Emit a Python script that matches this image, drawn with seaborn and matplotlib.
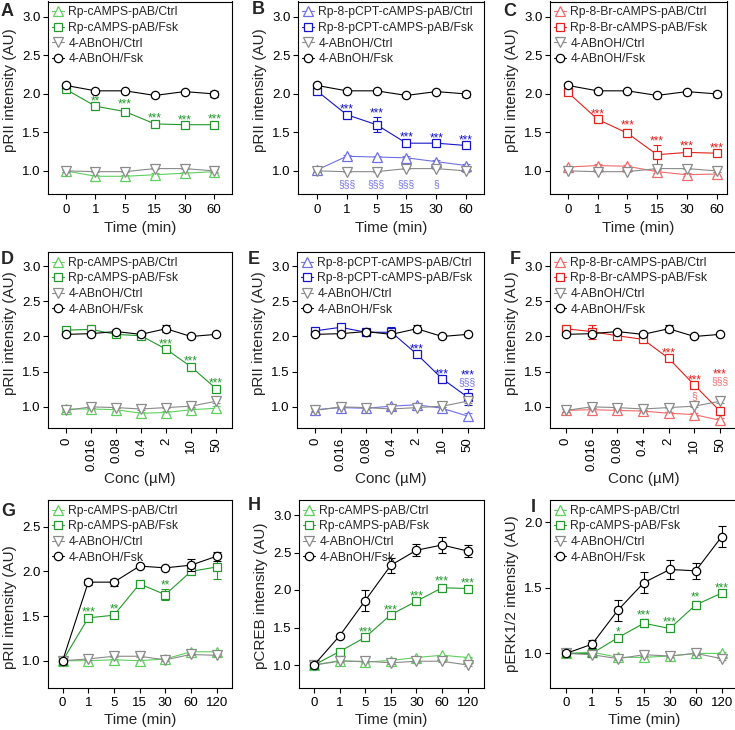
import numpy as np
import pandas as pd
import matplotlib
matplotlib.use("Agg")
import matplotlib.pyplot as plt
import seaborn as sns

sns.set_theme(style="ticks")
plt.rcParams['font.family'] = ['Liberation Sans', 'DejaVu Sans']

# ---------------- categories ----------------
time6 = ["0", "1", "5", "15", "30", "60"]
conc7 = ["0", "0.016", "0.08", "0.4", "2", "10", "50"]
time7 = ["0", "1", "5", "15", "30", "60", "120"]

# ---------------- shared 4-ABnOH series ----------------
abn_ctrl_t6 = [1.00, 0.99, 0.99, 1.03, 1.03, 1.00]
abn_ctrl_t6_err = [0.01, 0.01, 0.01, 0.01, 0.01, 0.02]
abn_fsk_t6 = [2.11, 2.04, 2.04, 1.98, 2.03, 2.00]
abn_fsk_t6_err = [0.03, 0.01, 0.01, 0.02, 0.01, 0.04]

abn_ctrl_c7 = [0.95, 1.00, 0.99, 0.97, 0.99, 1.01, 1.08]
abn_ctrl_c7_err = [0.02, 0.01, 0.01, 0.01, 0.01, 0.01, 0.03]
abn_fsk_c7 = [2.03, 2.04, 2.07, 2.03, 2.11, 2.00, 2.03]
abn_fsk_c7_err = [0.01, 0.01, 0.02, 0.01, 0.05, 0.02, 0.02]

# ---------------- panel A ----------------
rpA_ctrl = [1.00, 0.93, 0.93, 0.95, 0.97, 0.99]
rpA_ctrl_err = [0.02, 0.02, 0.02, 0.02, 0.02, 0.02]
rpA_fsk = [2.06, 1.84, 1.77, 1.61, 1.60, 1.60]
rpA_fsk_err = [0.02, 0.02, 0.04, 0.02, 0.01, 0.02]
starsA = ["", "**", "***", "***", "***", "***"]

# ---------------- panel B ----------------
pcptB_ctrl = [1.01, 1.19, 1.18, 1.17, 1.12, 1.07]
pcptB_ctrl_err = [0.02, 0.02, 0.02, 0.02, 0.02, 0.02]
pcptB_fsk = [2.04, 1.73, 1.60, 1.36, 1.36, 1.33]
pcptB_fsk_err = [0.02, 0.02, 0.10, 0.03, 0.01, 0.02]
starsB = ["", "***", "***", "***", "***", "***"]
sectB = ["", "§§§", "§§§", "§§§", "§", ""]
sectB_y = [0, 0.83, 0.83, 0.83, 0.83, 0]

# ---------------- panel C ----------------
brC_ctrl = [1.05, 1.07, 1.06, 0.99, 0.95, 0.96]
brC_ctrl_err = [0.02, 0.02, 0.02, 0.02, 0.02, 0.02]
brC_fsk = [2.02, 1.67, 1.49, 1.21, 1.24, 1.23]
brC_fsk_err = [0.02, 0.01, 0.05, 0.13, 0.03, 0.02]
starsC = ["", "***", "***", "***", "***", "***"]

# ---------------- panel D ----------------
rpD_ctrl = [0.97, 0.97, 0.96, 0.91, 0.92, 0.96, 0.98]
rpD_ctrl_err = [0.02, 0.02, 0.02, 0.02, 0.02, 0.02, 0.03]
rpD_fsk = [2.09, 2.10, 2.03, 2.01, 1.82, 1.57, 1.26]
rpD_fsk_err = [0.02, 0.02, 0.02, 0.02, 0.01, 0.03, 0.02]
starsD = ["", "", "", "", "***", "***", "***"]

# ---------------- panel E ----------------
pcptE_ctrl = [0.96, 0.99, 0.98, 1.01, 1.03, 0.98, 0.87]
pcptE_ctrl_err = [0.02, 0.02, 0.02, 0.02, 0.02, 0.02, 0.05]
pcptE_fsk = [2.08, 2.13, 2.06, 2.06, 1.75, 1.40, 1.14]
pcptE_fsk_err = [0.02, 0.03, 0.02, 0.07, 0.01, 0.01, 0.11]
starsE = ["", "", "", "", "***", "***", "***"]
sectE = ["", "", "", "", "", "", "§§§"]
sectE_y = [0, 0, 0, 0, 0, 0, 1.35]

# ---------------- panel F ----------------
brF_ctrl = [0.95, 0.96, 0.95, 0.94, 0.91, 0.89, 0.81]
brF_ctrl_err = [0.02, 0.02, 0.02, 0.02, 0.02, 0.02, 0.03]
brF_fsk = [2.11, 2.07, 2.01, 1.96, 1.69, 1.31, 0.94]
brF_fsk_err = [0.02, 0.10, 0.02, 0.01, 0.01, 0.02, 0.05]
starsF = ["", "", "", "", "***", "***", "***"]
sectF = ["", "", "", "", "", "§", "§§§"]
sectF_y = [0, 0, 0, 0, 0, 1.15, 1.37]

# ---------------- panel G ----------------
rpG_ctrl = [1.00, 1.00, 1.01, 1.00, 1.02, 1.10, 1.10]
rpG_ctrl_err = [0.01, 0.01, 0.01, 0.01, 0.01, 0.01, 0.01]
rpG_fsk = [1.00, 1.48, 1.51, 1.86, 1.74, 2.00, 2.05]
rpG_fsk_err = [0.01, 0.02, 0.02, 0.02, 0.06, 0.02, 0.13]
abnG_ctrl = [1.00, 1.02, 1.05, 1.05, 1.01, 1.07, 1.06]
abnG_ctrl_err = [0.01, 0.01, 0.01, 0.01, 0.01, 0.01, 0.01]
abnG_fsk = [1.00, 1.88, 1.88, 2.06, 2.04, 2.07, 2.17]
abnG_fsk_err = [0.01, 0.03, 0.04, 0.01, 0.01, 0.07, 0.05]
starsG = ["", "***", "**", "", "**", "", ""]

# ---------------- panel H ----------------
rpH_ctrl = [1.00, 1.06, 1.04, 1.06, 1.10, 1.13, 1.10]
rpH_ctrl_err = [0.01, 0.01, 0.01, 0.01, 0.01, 0.01, 0.01]
rpH_fsk = [1.00, 1.18, 1.37, 1.67, 1.85, 2.03, 2.02]
rpH_fsk_err = [0.01, 0.01, 0.01, 0.01, 0.01, 0.04, 0.02]
abnH_ctrl = [1.00, 1.05, 1.05, 1.03, 1.05, 1.05, 1.00]
abnH_ctrl_err = [0.01, 0.01, 0.01, 0.01, 0.01, 0.01, 0.01]
abnH_fsk = [1.00, 1.39, 1.86, 2.33, 2.53, 2.60, 2.52]
abnH_fsk_err = [0.01, 0.02, 0.14, 0.10, 0.08, 0.11, 0.08]
starsH = ["", "", "***", "***", "***", "***", "***"]

# ---------------- panel I ----------------
rpI_ctrl = [1.00, 1.01, 0.97, 0.97, 0.98, 1.00, 1.00]
rpI_ctrl_err = [0.01, 0.01, 0.01, 0.01, 0.01, 0.01, 0.01]
rpI_fsk = [1.00, 1.00, 1.12, 1.23, 1.19, 1.37, 1.46]
rpI_fsk_err = [0.01, 0.01, 0.01, 0.03, 0.02, 0.03, 0.01]
abnI_ctrl = [1.00, 0.99, 0.96, 0.99, 0.98, 1.00, 0.96]
abnI_ctrl_err = [0.01, 0.01, 0.01, 0.01, 0.01, 0.01, 0.01]
abnI_fsk = [1.00, 1.07, 1.33, 1.54, 1.64, 1.63, 1.89]
abnI_fsk_err = [0.01, 0.03, 0.08, 0.08, 0.07, 0.06, 0.08]
starsI = ["", "", "*", "***", "***", "**", "***"]

# ---------------- styling ----------------
GREEN_C, GREEN_F = "#5fcf5f", "#22992a"
BLUE_C, BLUE_F = "#6f6fe6", "#1515c8"
RED_C, RED_F = "#f06a6a", "#e3201c"
GRAY, BLACK = "#8a8a8a", "#000000"

W, H = 735, 730
fig = plt.figure(figsize=(W / 100, H / 100), dpi=100)


def rect(l, r, t, b):
    return [l / W, 1 - b / H, (r - l) / W, (b - t) / H]


panels = [
    dict(letter="A", px=(48, 232, 1.5, 194), xlim=(-0.6, 5.6), ylim=(0.7, 3.2),
         yt=[1.0, 1.5, 2.0, 2.5, 3.0], cats=time6, yl="pRII intensity (AU)", xl="Time (min)",
         cc=GREEN_C, fc=GREEN_F, name="Rp-cAMPS-pAB",
         c=(rpA_ctrl, rpA_ctrl_err), f=(rpA_fsk, rpA_fsk_err),
         g=(abn_ctrl_t6, abn_ctrl_t6_err), k=(abn_fsk_t6, abn_fsk_t6_err),
         stars=starsA, sect=None, sect_y=None, rot=0, lp=(1, 11), ly=0.54, xlp=4),
    dict(letter="B", px=(298, 484, 1.5, 194), xlim=(-0.63, 5.6), ylim=(0.7, 3.2),
         yt=[1.0, 1.5, 2.0, 2.5, 3.0], cats=time6, yl="pRII intensity (AU)", xl="Time (min)",
         cc=BLUE_C, fc=BLUE_F, name="Rp-8-pCPT-cAMPS-pAB",
         c=(pcptB_ctrl, pcptB_ctrl_err), f=(pcptB_fsk, pcptB_fsk_err),
         g=(abn_ctrl_t6, abn_ctrl_t6_err), k=(abn_fsk_t6, abn_fsk_t6_err),
         stars=starsB, sect=sectB, sect_y=sectB_y, rot=0, lp=(252, 10), ly=0.54, xlp=4),
    dict(letter="C", px=(550, 727, 1.5, 194), xlim=(-0.6, 5.35), ylim=(0.7, 3.2),
         yt=[1.0, 1.5, 2.0, 2.5, 3.0], cats=time6, yl="pRII intensity (AU)", xl="Time (min)",
         cc=RED_C, fc=RED_F, name="Rp-8-Br-cAMPS-pAB",
         c=(brC_ctrl, brC_ctrl_err), f=(brC_fsk, brC_fsk_err),
         g=(abn_ctrl_t6, abn_ctrl_t6_err), k=(abn_fsk_t6, abn_fsk_t6_err),
         stars=starsC, sect=None, sect_y=None, rot=0, lp=(503, 11), ly=0.54, xlp=4),
    dict(letter="D", px=(48, 232, 252, 428), xlim=(-0.72, 6.64), ylim=(0.7, 3.2),
         yt=[1.0, 1.5, 2.0, 2.5, 3.0], cats=conc7, yl="pRII intensity (AU)", xl="Conc (µM)",
         cc=GREEN_C, fc=GREEN_F, name="Rp-cAMPS-pAB",
         c=(rpD_ctrl, rpD_ctrl_err), f=(rpD_fsk, rpD_fsk_err),
         g=(abn_ctrl_c7, abn_ctrl_c7_err), k=(abn_fsk_c7, abn_fsk_c7_err),
         stars=starsD, sect=None, sect_y=None, rot=90, lp=(1, 259), ly=0.54, xlp=1),
    dict(letter="E", px=(297, 484, 252, 428), xlim=(-0.72, 6.65), ylim=(0.7, 3.2),
         yt=[1.0, 1.5, 2.0, 2.5, 3.0], cats=conc7, yl="pRII intensity (AU)", xl="Conc (µM)",
         cc=BLUE_C, fc=BLUE_F, name="Rp-8-pCPT-cAMPS-pAB",
         c=(pcptE_ctrl, pcptE_ctrl_err), f=(pcptE_fsk, pcptE_fsk_err),
         g=(abn_ctrl_c7, abn_ctrl_c7_err), k=(abn_fsk_c7, abn_fsk_c7_err),
         stars=starsE, sect=sectE, sect_y=sectE_y, rot=90, lp=(248, 259), ly=0.54, xlp=1),
    dict(letter="F", px=(550, 738, 252, 428), xlim=(-0.62, 6.7), ylim=(0.7, 3.2),
         yt=[1.0, 1.5, 2.0, 2.5, 3.0], cats=conc7, yl="pRII intensity (AU)", xl="Conc (µM)",
         cc=RED_C, fc=RED_F, name="Rp-8-Br-cAMPS-pAB",
         c=(brF_ctrl, brF_ctrl_err), f=(brF_fsk, brF_fsk_err),
         g=(abn_ctrl_c7, abn_ctrl_c7_err), k=(abn_fsk_c7, abn_fsk_c7_err),
         stars=starsF, sect=sectF, sect_y=sectF_y, rot=90, lp=(510, 259), ly=0.54, xlp=1),
    dict(letter="G", px=(48, 232, 500, 687.5), xlim=(-0.57, 6.6), ylim=(0.7, 2.8),
         yt=[1.0, 1.5, 2.0, 2.5], cats=time7, yl="pRII intensity (AU)", xl="Time (min)",
         cc=GREEN_C, fc=GREEN_F, name="Rp-cAMPS-pAB",
         c=(rpG_ctrl, rpG_ctrl_err), f=(rpG_fsk, rpG_fsk_err),
         g=(abnG_ctrl, abnG_ctrl_err), k=(abnG_fsk, abnG_fsk_err),
         stars=starsG, sect=None, sect_y=None, rot=0, lp=(1, 512), ly=0.43, xlp=3),
    dict(letter="H", px=(299, 484, 500, 687.5), xlim=(-0.59, 6.64), ylim=(0.7, 3.2),
         yt=[1.0, 1.5, 2.0, 2.5, 3.0], cats=time7, yl="pCREB intensity (AU)", xl="Time (min)",
         cc=GREEN_C, fc=GREEN_F, name="Rp-cAMPS-pAB",
         c=(rpH_ctrl, rpH_ctrl_err), f=(rpH_fsk, rpH_fsk_err),
         g=(abnH_ctrl, abnH_ctrl_err), k=(abnH_fsk, abnH_fsk_err),
         stars=starsH, sect=None, sect_y=None, rot=0, lp=(248, 505), ly=0.49, xlp=3),
    dict(letter="I", px=(550, 738, 500, 687.5), xlim=(-0.62, 6.63), ylim=(0.74, 2.17),
         yt=[1.0, 1.5, 2.0], cats=time7, yl="pERK1/2 intensity (AU)", xl="Time (min)",
         cc=GREEN_C, fc=GREEN_F, name="Rp-cAMPS-pAB",
         c=(rpI_ctrl, rpI_ctrl_err), f=(rpI_fsk, rpI_fsk_err),
         g=(abnI_ctrl, abnI_ctrl_err), k=(abnI_fsk, abnI_fsk_err),
         stars=starsI, sect=None, sect_y=None, rot=0, lp=(531, 507), ly=0.50, xlp=3),
]

LW = 0.8
MEW = 0.9
TICK_FS = 9.5
LEG_FS = 8.7
LAB_FS = 11
STAR_FS = 8.5

for p in panels:
    l, r, t, b = p["px"]
    ax = fig.add_axes(rect(l, r, t, b))
    xs = np.arange(len(p["cats"]))
    series = [
        (p["c"], p["cc"], "^", 6.5, f"{p['name']}/Ctrl"),
        (p["f"], p["fc"], "s", 5.5, f"{p['name']}/Fsk"),
        (p["g"], GRAY, "v", 6.5, "4-ABnOH/Ctrl"),
        (p["k"], BLACK, "o", 6.0, "4-ABnOH/Fsk"),
    ]
    for z, ((vals, errs), col, mk, ms, lab) in enumerate(series):
        ax.errorbar(xs, vals, yerr=errs, fmt="none", ecolor=col, elinewidth=LW,
                    capsize=3, capthick=LW, zorder=2 + z)
        df = pd.DataFrame({"x": xs, "y": vals})
        sns.lineplot(data=df, x="x", y="y", ax=ax, color=col, marker=mk, markersize=ms,
                     markerfacecolor="white", markeredgecolor=col, markeredgewidth=MEW,
                     linewidth=LW, label=lab, zorder=3 + z, errorbar=None)

    fvals, ferrs = p["f"]
    for i, s in enumerate(p["sect"] or []):
        if s:
            ax.text(i, p["sect_y"][i], s, color=p["cc"], fontsize=7.5,
                    ha="center", va="center", zorder=10)
    for i, s in enumerate(p["stars"]):
        if s:
            base = fvals[i] + ferrs[i]
            off = 0.5
            if p["sect"] and p["sect"][i] and p["sect_y"][i] > base:
                base = p["sect_y"][i]
                off = 2.5
            ax.annotate(s, xy=(i, base), xytext=(0, off), textcoords="offset points",
                        color=p["fc"], fontsize=STAR_FS, ha="center", va="baseline",
                        zorder=10)

    ax.set_xlim(*p["xlim"])
    ax.set_ylim(*p["ylim"])
    ax.set_xticks(xs)
    ax.set_xticklabels(p["cats"], rotation=p["rot"])
    ax.set_yticks(p["yt"])
    ax.set_yticklabels([f"{v:.1f}" for v in p["yt"]])
    ax.tick_params(axis="both", direction="out", length=3.5, width=LW,
                   labelsize=TICK_FS, colors="black")
    ax.tick_params(axis="x", pad=3.5)
    ax.tick_params(axis="y", pad=2)
    for sp in ax.spines.values():
        sp.set_visible(True)
        sp.set_linewidth(LW)
        sp.set_color("black")
    ax.set_ylabel(p["yl"], fontsize=LAB_FS)
    ax.yaxis.set_label_coords(-31 / (r - l), p["ly"])
    ax.set_xlabel(p["xl"], fontsize=LAB_FS, labelpad=p["xlp"])
    ax.legend(loc="upper left", bbox_to_anchor=(-0.005, 1.0), frameon=False,
              fontsize=LEG_FS, handlelength=1.0, handletextpad=0.35, labelspacing=0.3,
              borderpad=0.2, borderaxespad=0.2, markerscale=1.0)
    lx, ly = p["lp"]
    fig.text(lx / W, 1 - ly / H, p["letter"], fontsize=13, fontweight="bold",
             ha="left", va="center")

fig.savefig("out.png", dpi=100)
